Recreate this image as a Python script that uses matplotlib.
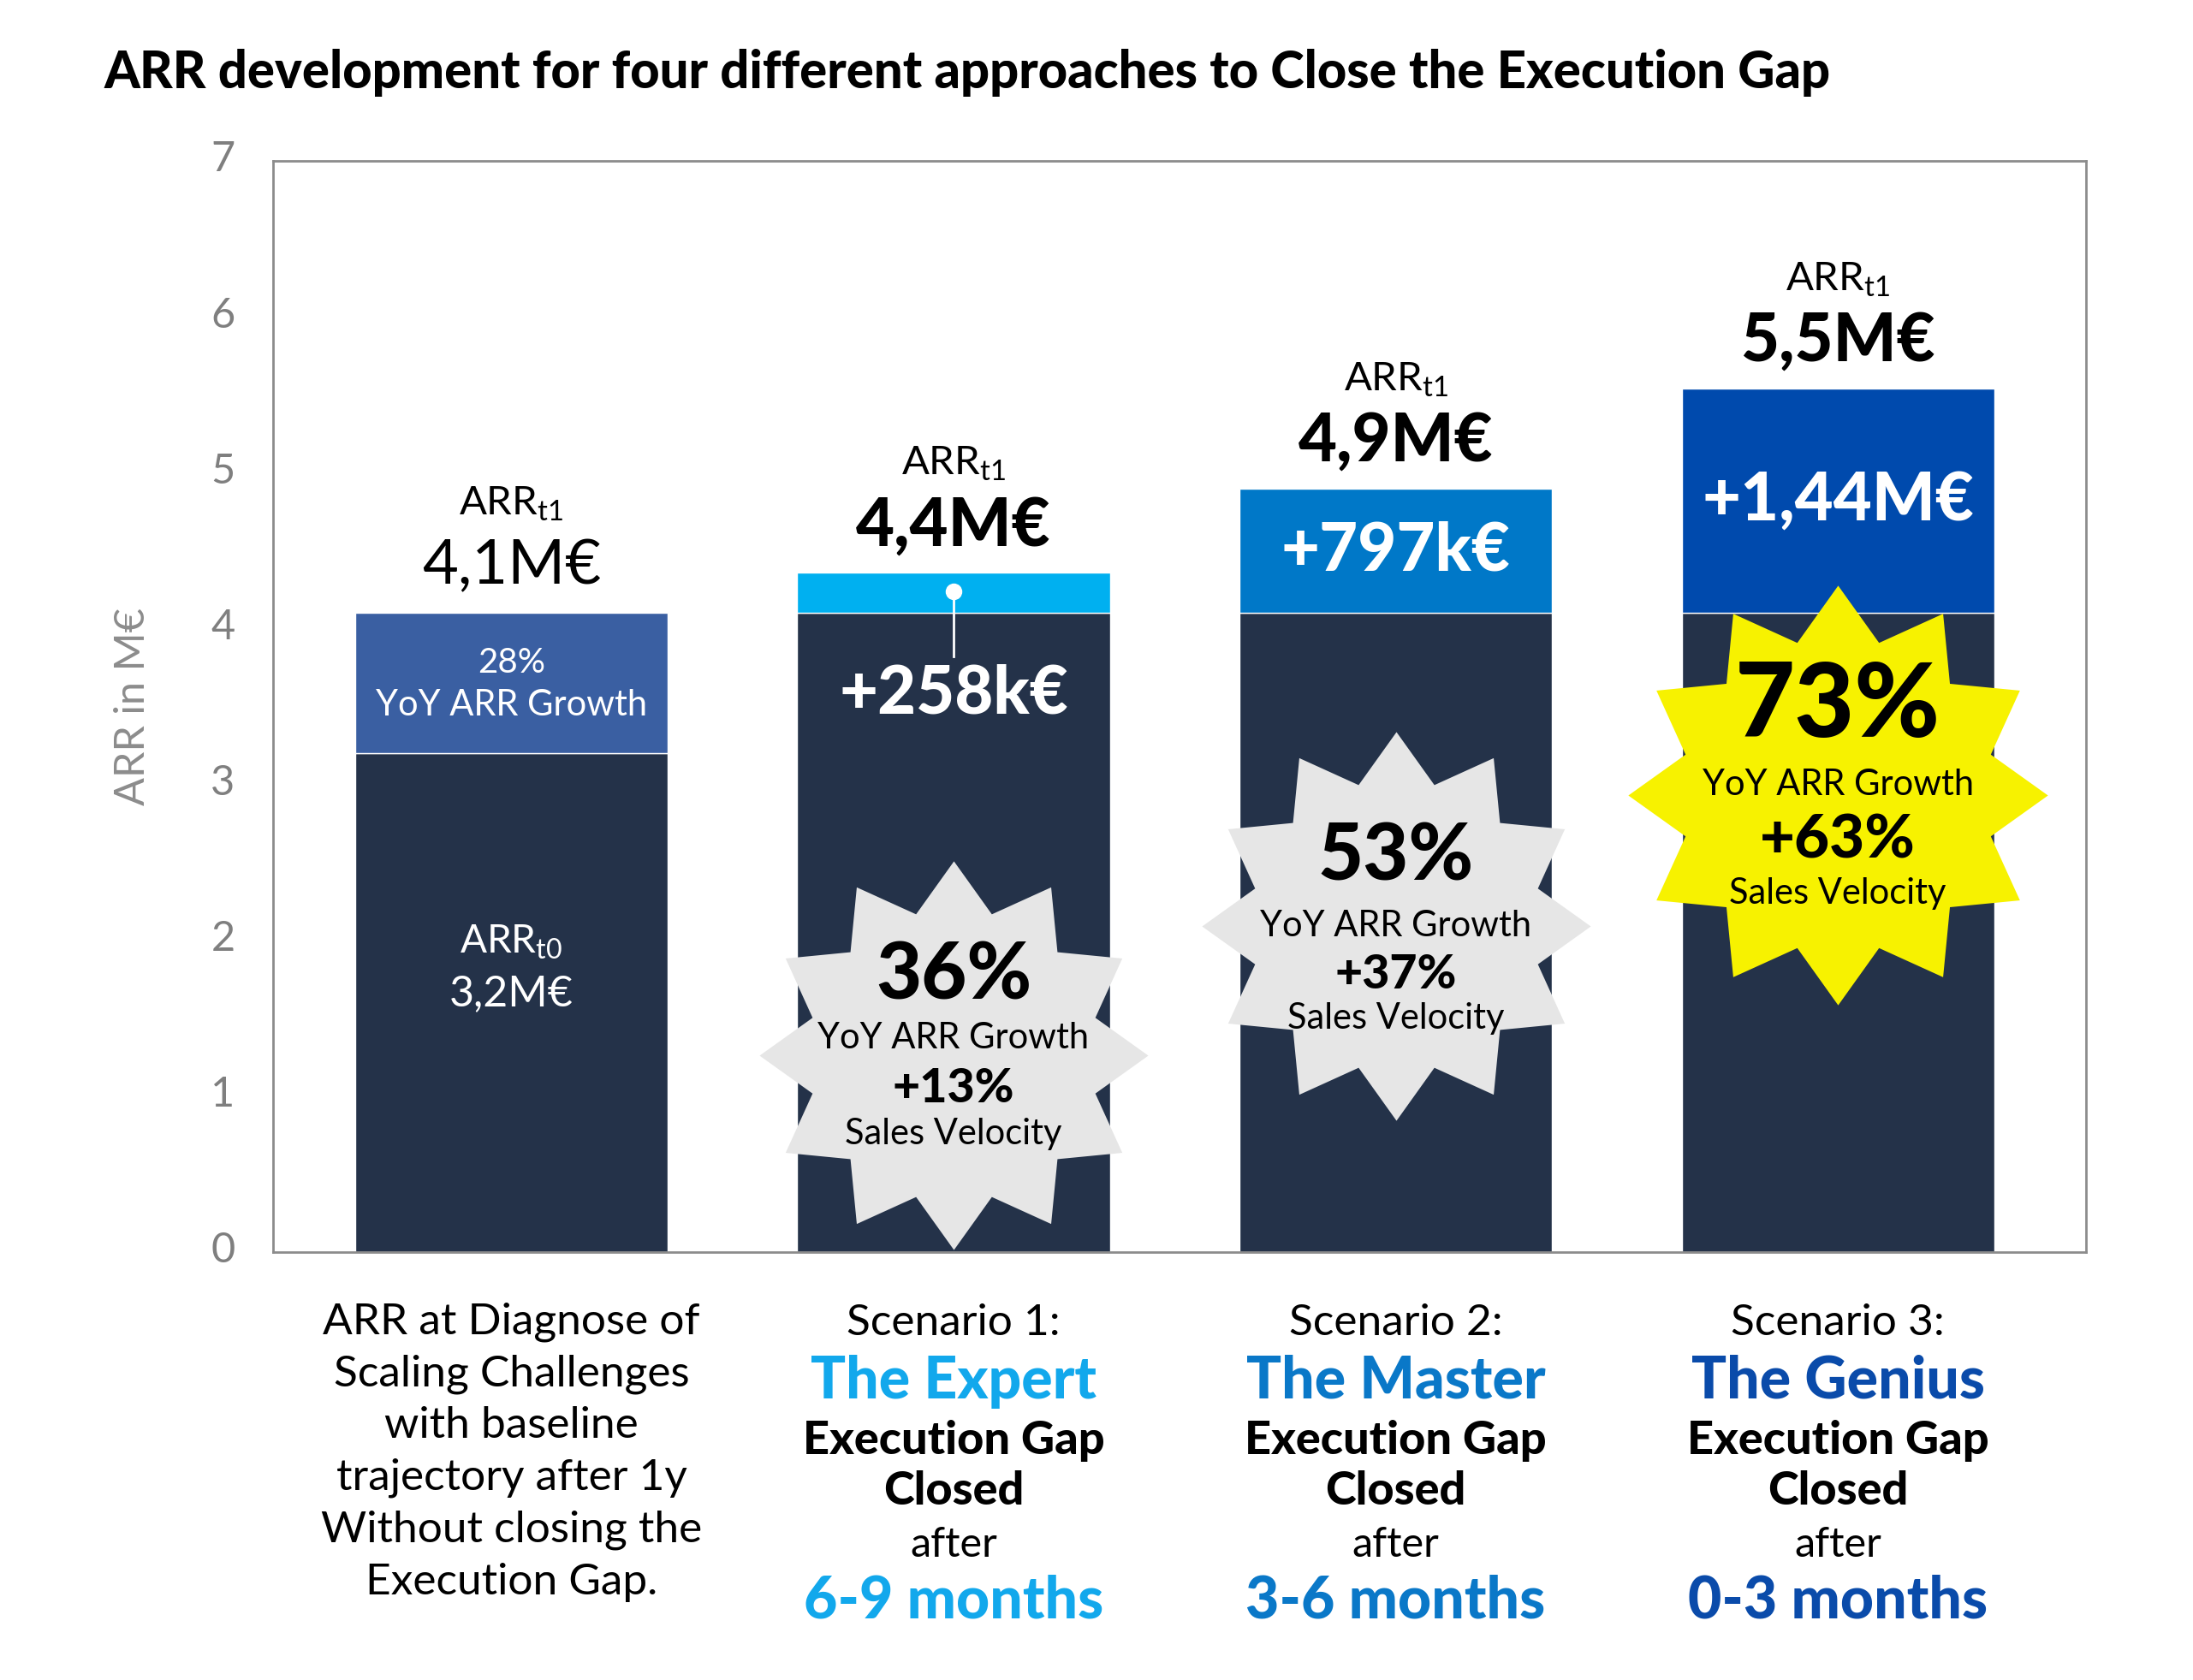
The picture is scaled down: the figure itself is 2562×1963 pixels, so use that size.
import numpy as np
import matplotlib
matplotlib.use("Agg")
import matplotlib.pyplot as plt
from matplotlib.path import Path
from matplotlib.transforms import blended_transform_factory, ScaledTranslation

plt.rcParams['font.family'] = ['Lato', 'DejaVu Sans']
plt.rcParams['mathtext.fontset'] = 'custom'
plt.rcParams['mathtext.rm'] = 'Lato'
plt.rcParams['mathtext.it'] = 'Lato:italic'
plt.rcParams['mathtext.bf'] = 'Lato:bold'

# ---------------- data ----------------
x_pos = [0, 1, 2, 3]
base_values = [3.2, 4.1, 4.1, 4.1]          # ARR t0 / baseline part (M€)
gain_values = [0.9, 0.258, 0.797, 1.44]     # growth on top (M€)
total_labels = ["4,1M€", "4,4M€", "4,9M€", "5,5M€"]
gain_labels = ["+258k€", "+797k€", "+1,44M€"]
base_growth = ["28%", "YoY ARR Growth"]
arr_t0_value = "3,2M€"
yoy_growth = ["36%", "53%", "73%"]
sales_velocity = ["+13%", "+37%", "+63%"]
y_ticks = [0, 1, 2, 3, 4, 5, 6, 7]

baseline_lines = ["ARR at Diagnose of", "Scaling Challenges", "with baseline",
                  "trajectory after 1y", "Without closing the", "Execution Gap."]
scenario_titles = ["Scenario 1:", "Scenario 2:", "Scenario 3:"]
scenario_names = ["The Expert", "The Master", "The Genius"]
closing_times = ["6-9 months", "3-6 months", "0-3 months"]

# ---------------- style ----------------
base_color = "#243249"
gain_colors = ["#3A5FA2", "#00B0F0", "#0078C8", "#004AAD"]
name_colors = ["#12A8EC", "#0A78C8", "#0A4BAA"]
star_colors = ["#E6E6E6", "#E6E6E6", "#F7F200"]
star_y = [1.263, 2.09, 2.93]
star_diam_pt = [327, 327, 353]
star_text_y = [[1.765, 1.37, 1.05, 0.76],
               [2.53, 2.09, 1.78, 1.50],
               [3.50, 3.00, 2.64, 2.30]]
star_big_size = [66, 66, 87]
star_mid_size = [40, 40, 51]
bar_width = 0.707

W, H = 2562, 1963
fig = plt.figure(figsize=(W / 100, H / 100), dpi=100)
ax = fig.add_axes([319 / W, 1 - 1463 / H, (2437 - 319) / W, (1463 - 188) / H])

ax.bar(x_pos, base_values, width=bar_width, color=base_color,
       edgecolor="white", linewidth=1, zorder=2)
ax.bar(x_pos, gain_values, width=bar_width, bottom=base_values, color=gain_colors,
       edgecolor="white", linewidth=1, zorder=2)

ax.set_xlim(-0.539, 3.561)
ax.set_ylim(0, 7)
ax.set_yticks(y_ticks)
ax.set_xticks([])
ax.tick_params(axis="y", length=0, pad=32, labelsize=35, labelcolor="#7f7f7f")
for lab in ax.get_yticklabels():
    lab.set_transform(lab.get_transform() + ScaledTranslation(0, 4 / 72, fig.dpi_scale_trans))
for s in ax.spines.values():
    s.set_color("#8c8c8c")
    s.set_linewidth(2)

ax.set_ylabel("ARR in M€", fontsize=35, color="#8c8c8c")
ax.yaxis.set_label_coords(-0.0774, 0.5)
ax.yaxis.label.set_verticalalignment("center")

# star marker (12 points)
verts = []
for k in range(12):
    a_out = np.deg2rad(90 + 30 * k)
    a_in = np.deg2rad(105 + 30 * k)
    verts.append((np.cos(a_out), np.sin(a_out)))
    verts.append((0.753 * np.cos(a_in), 0.753 * np.sin(a_in)))
verts.append(verts[0])
codes = [Path.MOVETO] + [Path.LINETO] * 23 + [Path.CLOSEPOLY]
star_path = Path(verts, codes)

for i in range(3):
    xi = x_pos[i + 1]
    ax.scatter([xi], [star_y[i]], marker=star_path, s=star_diam_pt[i] ** 2,
               color=star_colors[i], linewidths=0, zorder=3)
    ty = star_text_y[i]
    ax.text(xi, ty[0], yoy_growth[i], ha="center", va="center",
            fontsize=star_big_size[i], fontweight="black", color="black", zorder=4)
    ax.text(xi, ty[1], "YoY ARR Growth", ha="center", va="center",
            fontsize=30, color="black", zorder=4)
    ax.text(xi, ty[2], sales_velocity[i], ha="center", va="center",
            fontsize=star_mid_size[i], fontweight="black", color="black", zorder=4)
    ax.text(xi, ty[3], "Sales Velocity", ha="center", va="center",
            fontsize=30, color="black", zorder=4)

# labels above bars
for i in range(4):
    top = base_values[i] + gain_values[i]
    ax.text(x_pos[i], top + 0.70, r"ARR$_{\mathrm{t1}}$", ha="center", va="center",
            fontsize=34, color="black")
    ax.text(x_pos[i], top + 0.30, total_labels[i], ha="center", va="center",
            fontsize=52 if i == 0 else 56, color="black",
            fontweight="normal" if i == 0 else "black")

# bar 1 inner labels
b0_mid = base_values[0] + gain_values[0] / 2
ax.text(x_pos[0], b0_mid + 0.13, base_growth[0], ha="center", va="center",
        fontsize=29, color="white", zorder=4)
ax.text(x_pos[0], b0_mid - 0.14, base_growth[1], ha="center", va="center",
        fontsize=30, color="white", zorder=4)
ax.text(x_pos[0], 1.99, r"ARR$_{\mathrm{t0}}$", ha="center", va="center",
        fontsize=33, color="white", zorder=4)
ax.text(x_pos[0], 1.655, arr_t0_value, ha="center", va="center",
        fontsize=36, color="white", zorder=4)

# gain labels
ax.text(x_pos[1], 3.58, gain_labels[0], ha="center", va="center",
        fontsize=56, fontweight="black", color="white", zorder=4)
ax.plot([x_pos[1], x_pos[1]], [4.24, 3.82], color="white", lw=2, zorder=4)
ax.plot([x_pos[1]], [4.24], marker="o", ms=13, color="white", zorder=5)
for i in (2, 3):
    mid = base_values[i] + gain_values[i] / 2
    ax.text(x_pos[i], mid, gain_labels[i - 1], ha="center", va="center",
            fontsize=56, fontweight="black", color="white", zorder=4)

# category labels below the axis
tr = blended_transform_factory(ax.transData, fig.transFigure)
col1_y = [1545, 1606, 1666, 1727, 1788, 1849]
for line, yp in zip(baseline_lines, col1_y):
    ax.text(x_pos[0], 1 - yp / H, line, transform=tr, ha="center", va="center",
            fontsize=37, color="black")

for i in range(3):
    xi = x_pos[i + 1]
    ax.text(xi, 1 - 1546 / H, scenario_titles[i], transform=tr, ha="center",
            va="center", fontsize=37, color="black")
    ax.text(xi, 1 - 1614 / H, scenario_names[i], transform=tr, ha="center",
            va="center", fontsize=49, fontweight="black", color=name_colors[i])
    ax.text(xi, 1 - 1683 / H, "Execution Gap", transform=tr, ha="center",
            va="center", fontsize=39, fontweight="black", color="black")
    ax.text(xi, 1 - 1742 / H, "Closed", transform=tr, ha="center",
            va="center", fontsize=39, fontweight="black", color="black")
    ax.text(xi, 1 - 1805 / H, "after", transform=tr, ha="center",
            va="center", fontsize=35, color="black")
    ax.text(xi, 1 - 1871 / H, closing_times[i], transform=tr, ha="center",
            va="center", fontsize=49, fontweight="black", color=name_colors[i])

fig.text(122 / W, 1 - 85 / H,
         "ARR development for four different approaches to Close the Execution Gap",
         ha="left", va="center", fontsize=43, fontweight="black", color="black")

fig.savefig("out.png", dpi=100, facecolor="white")
